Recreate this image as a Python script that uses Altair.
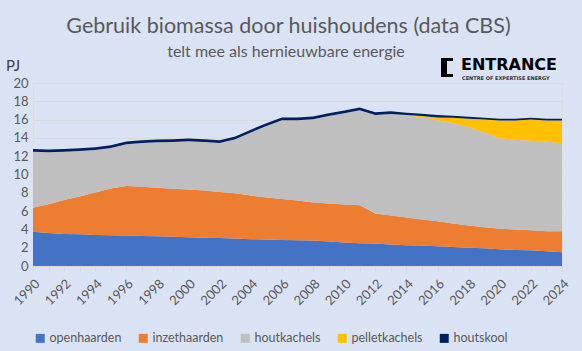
import altair as alt
import pandas as pd

years = list(range(1990, 2025))
series_names = ["openhaarden", "inzethaarden", "houtkachels", "pelletkachels", "houtskool"]
colors = ["#4472C4", "#ED7D31", "#BFBFBF", "#FFC000", "#002060"]

openhaarden = [3.73, 3.62, 3.51, 3.47, 3.40, 3.36, 3.33, 3.29, 3.25, 3.20,
               3.15, 3.10, 3.05, 3.00, 2.93, 2.90, 2.85, 2.82, 2.78, 2.67,
               2.56, 2.49, 2.45, 2.34, 2.27, 2.23, 2.16, 2.08, 2.00, 1.94,
               1.83, 1.76, 1.72, 1.60, 1.50]
inzethaarden = [2.63, 3.14, 3.69, 4.13, 4.64, 5.12, 5.41, 5.38, 5.30, 5.25,
                5.20, 5.15, 5.05, 4.95, 4.77, 4.60, 4.46, 4.35, 4.17, 4.17,
                4.17, 4.16, 3.29, 3.18, 3.03, 2.85, 2.74, 2.56, 2.42, 2.30,
                2.23, 2.23, 2.19, 2.20, 2.30]
houtkachels = [6.14, 5.66, 5.30, 4.97, 4.64, 4.42, 4.56, 4.78, 4.97, 5.11,
               5.28, 5.31, 5.35, 5.90, 6.90, 7.80, 8.62, 8.76, 9.09, 9.56,
               9.97, 10.38, 10.76, 11.10, 11.15, 11.17, 11.04, 10.96, 10.78, 10.36,
               9.91, 9.81, 9.79, 9.80, 9.62]
pelletkachels = [0, 0, 0, 0, 0, 0, 0, 0, 0, 0,
                 0, 0, 0, 0, 0, 0, 0, 0, 0, 0,
                 0, 0, 0, 0, 0.05, 0.15, 0.30, 0.60, 0.90, 1.40,
                 1.93, 2.10, 2.30, 2.30, 2.48]
houtskool = [0.30, 0.30, 0.30, 0.30, 0.30, 0.30, 0.30, 0.30, 0.30, 0.30,
             0.30, 0.30, 0.30, 0.30, 0.30, 0.30, 0.30, 0.30, 0.30, 0.30,
             0.30, 0.30, 0.30, 0.28, 0.25, 0.24, 0.26, 0.22, 0.20, 0.20,
             0.20, 0.20, 0.20, 0.20, 0.20]

title_text = "Gebruik biomassa door huishoudens (data CBS)"
subtitle_text = "telt mee als hernieuwbare energie"
unit_text = "PJ"
logo_text = "ENTRANCE"
logo_sub = "CENTRE OF EXPERTISE ENERGY"

FONT = "Lato"
GREY = "#595959"

rows = []
for i, (name, vals) in enumerate(zip(series_names,
                                     [openhaarden, inzethaarden, houtkachels, pelletkachels, houtskool])):
    for y, v in zip(years, vals):
        rows.append({"year": y, "series": name, "value": v, "idx": i})
df = pd.DataFrame(rows)

area = alt.Chart(df).mark_area(interpolate="linear").encode(
    x=alt.X("year:Q",
            scale=alt.Scale(domain=[1990, 2024], nice=False, zero=False),
            axis=alt.Axis(values=years, format="d",
                          labelExpr="datum.value % 2 == 0 ? datum.label : ''",
                          labelAngle=315, labelFontSize=13, labelColor=GREY,
                          labelOverlap=False, labelFlush=False, labelPadding=6,
                          tickColor="#D9D9D9", tickSize=5, domainColor="#D9D9D9",
                          grid=False, title=None)),
    y=alt.Y("value:Q", stack="zero",
            scale=alt.Scale(domain=[0, 20], nice=False),
            axis=alt.Axis(values=list(range(0, 21, 2)), grid=True, gridColor="#D9D9D9",
                          domain=False, ticks=False, labelFontSize=13, labelColor=GREY,
                          labelPadding=5, title=None)),
    color=alt.Color("series:N",
                    scale=alt.Scale(domain=series_names, range=colors),
                    legend=alt.Legend(orient="none", legendX=1, legendY=249,
                                      direction="horizontal", title=None,
                                      symbolType="square", symbolSize=81,
                                      symbolStrokeWidth=0, labelFontSize=12.5,
                                      labelColor=GREY, labelOffset=3,
                                      columnPadding=15, padding=0)),
    order=alt.Order("idx:Q", sort="ascending"),
)


def txt(text, x, y, size, color=GREY, align="left", weight="normal", font=FONT):
    return alt.Chart(pd.DataFrame({"t": [text]})).mark_text(
        align=align, baseline="alphabetic", fontSize=size, color=color,
        font=font, fontWeight=weight
    ).encode(text="t:N", x=alt.value(x), y=alt.value(y))


def box(x1, x2, y1, y2):
    return alt.Chart(pd.DataFrame({"k": [0]})).mark_rect(color="black").encode(
        x=alt.value(x1), x2=alt.value(x2), y=alt.value(y1), y2=alt.value(y2))


layers = [
    area,
    txt(title_text, 255.5, -50, 21.5, align="center"),
    txt(subtitle_text, 253, -26, 16, align="center"),
    txt(unit_text, -27, -12, 15, color="#404040"),
    txt(logo_text, 428, -13, 16, color="black", weight="bold", font="DejaVu Sans"),
    txt(logo_sub, 429, -3.5, 5, color="#333333", weight="bold", font="DejaVu Sans"),
    box(408, 414, -25, -6),
    box(408, 420, -25, -22),
    box(408, 420, -9, -6),
]

chart = alt.layer(*layers).properties(
    width=529, height=183,
    autosize=alt.AutoSizeParams(type="none"),
    padding={"left": 33, "top": 83, "right": 20, "bottom": 85},
    background="#DAE3F3",
).configure_view(fill="white", strokeOpacity=0).configure(font=FONT)

chart.save("out.html", embed_options={"renderer": "svg", "actions": False})
